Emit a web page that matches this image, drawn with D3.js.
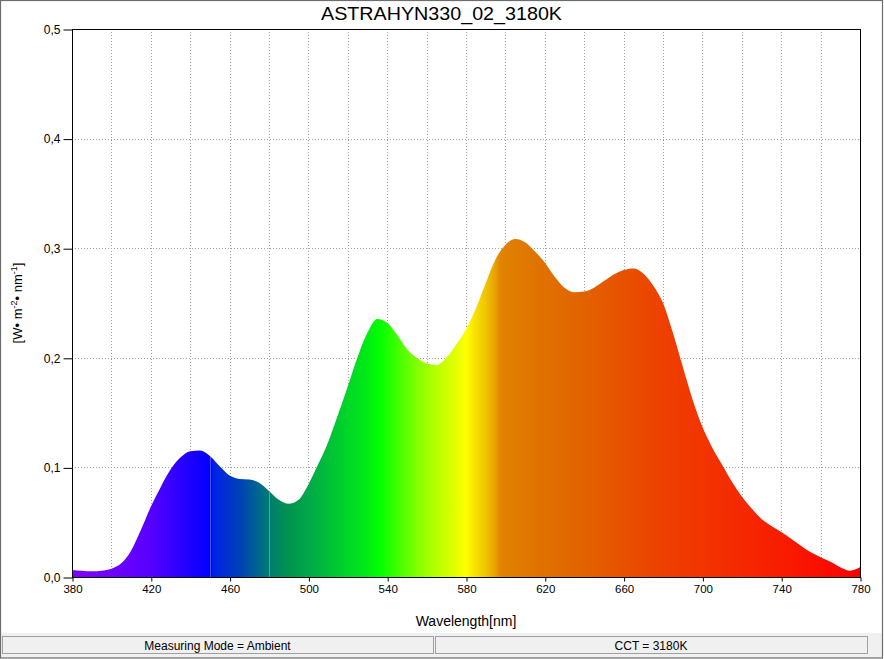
<!DOCTYPE html>
<html>
<head>
<meta charset="utf-8">
<script src="https://cdn.jsdelivr.net/npm/d3@7"></script>
<style>
html,body{margin:0;padding:0;background:#fff;}
svg{display:block;font-family:"Liberation Sans",Arial,sans-serif;}
</style>
</head>
<body>
<svg id="chart" width="884" height="659"></svg>
<script>
// ---- data ----
const wavelengths = [380,385,390,395,400,405,410,415,420,425,430,435,440,445,450,455,460,465,470,475,480,485,490,495,500,505,510,515,520,525,530,535,540,545,550,555,560,565,570,575,580,585,590,595,600,605,610,615,620,625,630,635,640,645,650,655,660,665,670,675,680,685,690,695,700,705,710,715,720,725,730,735,740,745,750,755,760,765,770,775,780];
const irradiance = [0.0065,0.0058,0.0052,0.0058,0.0076,0.0125,0.024,0.043,0.064,0.082,0.098,0.109,0.1148,0.1155,0.1105,0.101,0.0925,0.0895,0.089,0.086,0.0785,0.0705,0.0668,0.0705,0.0845,0.103,0.123,0.148,0.174,0.201,0.223,0.2355,0.232,0.221,0.208,0.200,0.195,0.1935,0.200,0.212,0.226,0.245,0.268,0.290,0.303,0.3085,0.3055,0.297,0.287,0.274,0.264,0.2598,0.2605,0.264,0.270,0.276,0.280,0.2815,0.277,0.266,0.250,0.223,0.192,0.162,0.137,0.118,0.1025,0.087,0.0735,0.0625,0.053,0.0465,0.041,0.035,0.0285,0.0225,0.018,0.014,0.009,0.0058,0.0088];
const xTicks = [380,420,460,500,540,580,620,660,700,740,780];
const xGrid = [400,420,440,460,480,500,520,540,560,580,600,620,640,660,680,700,720,740,760];
const yTicks = [0,0.1,0.2,0.3,0.4,0.5];
const yGrid = [0.1,0.2,0.3,0.4];
const gradWl = [380,400,420,440,450,452,465,475,480,490,500,510,520,530,536,545,555,565,575,580,585,590,595,597,600,620,640,660,680,700,740,780];
const gradCol = ["#8000ff","#7000ff","#5600ff","#1c00ff","#0000ff","#0022e6","#0040b8","#00688c","#007c70","#00934f","#00a848","#00bf38","#00d628","#00ec14","#00ff00","#40ff00","#80ff00","#b8ff00","#e4ff00","#ffff00","#f8e000","#f0c400","#e8a000","#e08800","#e08000","#e07000","#e26200","#e85000","#ee4000","#f23400","#f81c00","#ff0000"];
const artifactLines = [450,480];
const title = "ASTRAHYN330_02_3180K";
const xLabel = "Wavelength[nm]";
const statusLeft = "Measuring Mode = Ambient";
const statusRight = "CCT = 3180K";

// ---- layout ----
const svg = d3.select("#chart");
const L = 72, R = 860, T = 29, B = 577;
const x = d3.scaleLinear().domain([380,780]).range([L,R]);
const y = d3.scaleLinear().domain([0,0.5]).range([B,T]);

// background
svg.append("rect").attr("x",0).attr("y",0).attr("width",884).attr("height",659).attr("fill","#fff");

// gradient
const defs = svg.append("defs");
const grad = defs.append("linearGradient").attr("id","spec")
  .attr("gradientUnits","userSpaceOnUse")
  .attr("x1",x(380)).attr("x2",x(780)).attr("y1",0).attr("y2",0);
gradWl.forEach((w,i)=>{
  grad.append("stop").attr("offset",((w-380)/400)).attr("stop-color",gradCol[i]);
});

// grid
const gridG = svg.append("g").attr("stroke","#a0a0a0").attr("stroke-width",1).attr("stroke-dasharray","1,2");
gridG.selectAll("line.v").data(xGrid).join("line")
  .attr("x1",d=>Math.round(x(d))+0.5).attr("x2",d=>Math.round(x(d))+0.5)
  .attr("y1",T).attr("y2",B);
gridG.selectAll("line.h").data(yGrid).join("line")
  .attr("y1",d=>Math.round(y(d))+0.5).attr("y2",d=>Math.round(y(d))+0.5)
  .attr("x1",L).attr("x2",R);

// area
const data = wavelengths.map((w,i)=>({w, v: irradiance[i]}));
const area = d3.area().x(d=>x(d.w)).y0(y(0)).y1(d=>y(d.v)).curve(d3.curveMonotoneX);
defs.append("clipPath").attr("id","areaClip").append("path").attr("d",area(data));
svg.append("path").attr("d",area(data)).attr("fill","url(#spec)");
svg.append("g").attr("clip-path","url(#areaClip)")
  .selectAll("line").data(artifactLines).join("line")
  .attr("x1",d=>Math.round(x(d))+0.5).attr("x2",d=>Math.round(x(d))+0.5)
  .attr("y1",T).attr("y2",B)
  .attr("stroke","#fff").attr("stroke-opacity",0.3).attr("stroke-width",1);

// frame
svg.append("rect").attr("x",L+0.5).attr("y",T+0.5).attr("width",R-L).attr("height",B-T)
  .attr("fill","none").attr("stroke","#000").attr("stroke-width",1);

// axes
const yAxis = d3.axisLeft(y).tickValues(yTicks).tickSize(9).tickPadding(3)
  .tickFormat(d=>d3.format(".1f")(d).replace(".",","));
const gy = svg.append("g").attr("transform",`translate(${L+0.5},0.5)`).call(yAxis);
gy.select(".domain").remove();
gy.selectAll("text").attr("font-size",12).attr("font-family","Liberation Sans, Arial, sans-serif").attr("fill","#000");
gy.selectAll("line").attr("stroke","#000");

const xAxis = d3.axisBottom(x).tickValues(xTicks).tickSize(4).tickPadding(3).tickFormat(d3.format("d"));
const gx = svg.append("g").attr("transform",`translate(0.5,${B+0.5})`).call(xAxis);
gx.select(".domain").remove();
gx.selectAll("text").attr("font-size",11.5).attr("font-family","Liberation Sans, Arial, sans-serif").attr("fill","#000");
gx.selectAll("line").attr("stroke","#000");

// title
svg.append("text").attr("x",441.5).attr("y",20).attr("text-anchor","middle")
  .attr("font-size",19).attr("textLength",241).attr("lengthAdjust","spacingAndGlyphs")
  .attr("fill","#000").text(title);

// x label
svg.append("text").attr("x",(L+R)/2).attr("y",626).attr("text-anchor","middle")
  .attr("font-size",14).attr("fill","#000").text(xLabel);

// y label
const yl = svg.append("text").attr("transform",`translate(22,${(T+B)/2}) rotate(-90)`)
  .attr("text-anchor","middle").attr("font-size",13).attr("fill","#000");
yl.append("tspan").text("[W\u2022 m");
yl.append("tspan").attr("font-size",9).attr("dy",-5).text("-2");
yl.append("tspan").attr("dy",5).text("\u2022 nm");
yl.append("tspan").attr("font-size",9).attr("dy",-5).text("-1");
yl.append("tspan").attr("dy",5).text("]");

// status bar
svg.append("rect").attr("x",1).attr("y",633).attr("width",882).attr("height",25).attr("fill","#f0f0f0");
const panels = [{x0:2,x1:433,t:statusLeft},{x0:435,x1:867,t:statusRight}];
panels.forEach(p=>{
  svg.append("rect").attr("x",p.x0+0.5).attr("y",636.5).attr("width",p.x1-p.x0).attr("height",17)
    .attr("fill","#f0f0f0").attr("stroke","#a0a0a0").attr("stroke-width",1);
  svg.append("text").attr("x",(p.x0+p.x1)/2).attr("y",650).attr("text-anchor","middle")
    .attr("font-size",12).attr("fill","#000").text(p.t);
});

// window border
svg.append("rect").attr("x",0.5).attr("y",0.5).attr("width",882).attr("height",657.5)
  .attr("fill","none").attr("stroke","#6d6d6d").attr("stroke-width",1.2);
</script>
</body>
</html>
